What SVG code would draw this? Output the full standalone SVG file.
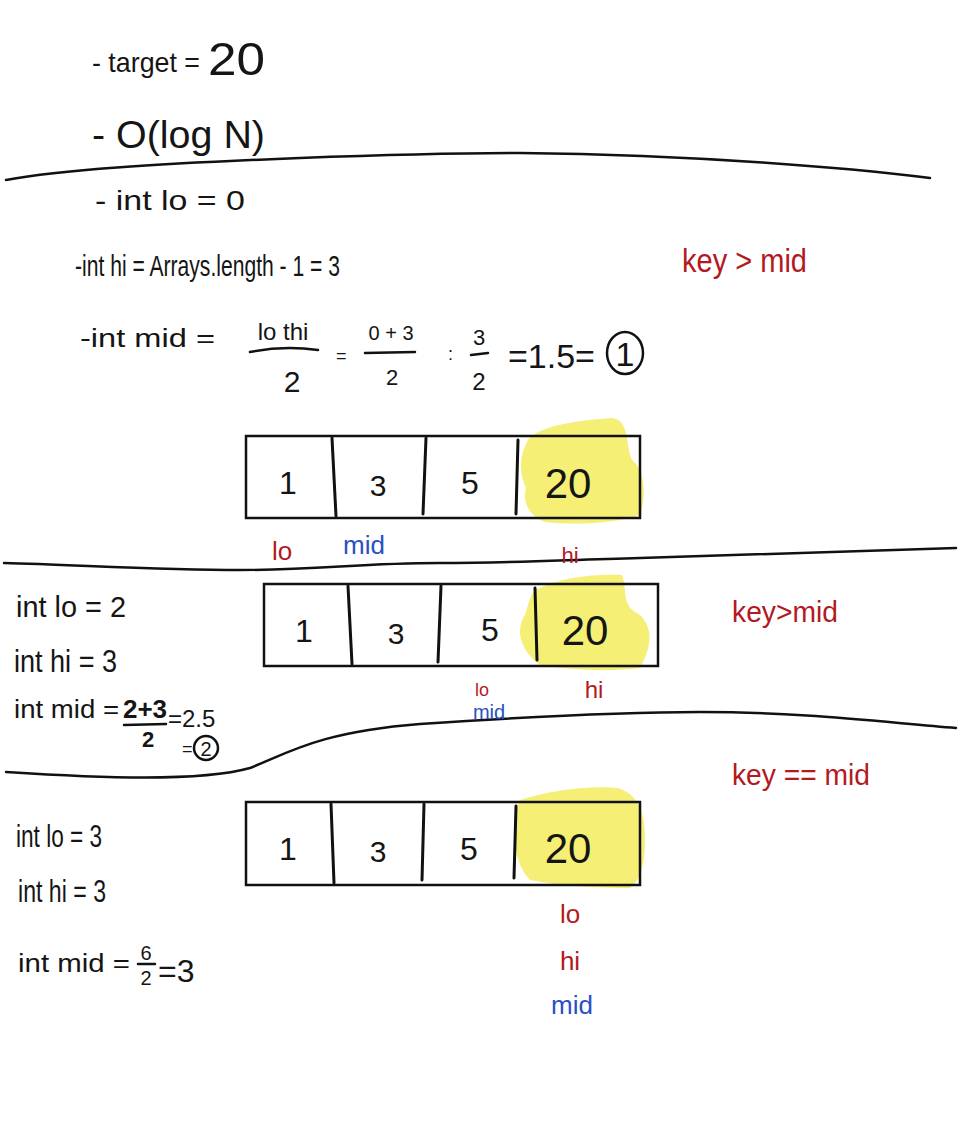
<svg xmlns="http://www.w3.org/2000/svg" width="959" height="1125" viewBox="0 0 959 1125">
<style>
.t{font-family:"Liberation Sans",Arial,sans-serif;fill:#151515}
.r{font-family:"Liberation Sans",Arial,sans-serif;fill:#b3191f}
.b{font-family:"Liberation Sans",Arial,sans-serif;fill:#2a4fc4}
.ln{fill:none;stroke:#111;stroke-width:2.5;stroke-linecap:round}
.box{fill:none;stroke:#111;stroke-width:2.5}
.dv{stroke:#111;stroke-width:3;stroke-linecap:round}
.hl{fill:#f5ec5e;opacity:0.85}
.m{text-anchor:middle}
</style>
<rect width="959" height="1125" fill="#ffffff"/>

<!-- dividers -->
<path class="ln" d="M6,180 C60,170 150,164 300,158 C380,155 450,153 520,153 C700,155 850,168 930,178"/>
<path class="ln" d="M4,563 C80,565 160,570 240,570 C320,570 360,563 440,563 C520,563 560,560 640,558 C760,554 880,550 956,548"/>
<path class="ln" d="M6,772 C100,778 200,782 250,768 C290,752 320,732 420,724 C540,716 640,712 700,712 C800,712 880,722 956,728"/>

<!-- header notes -->
<g id="notes-top">
<text class="t" x="92" y="72" font-size="28" textLength="108" lengthAdjust="spacingAndGlyphs">- target =</text>
<text class="t" x="208" y="75" font-size="46" textLength="57" lengthAdjust="spacingAndGlyphs">20</text>
<text class="t" x="92" y="148" font-size="38" textLength="173" lengthAdjust="spacingAndGlyphs">- O(log N)</text>
</g>

<!-- step 1 -->
<g id="step1-text">
<text class="t" x="95" y="210" font-size="28" textLength="150" lengthAdjust="spacingAndGlyphs">- int lo = 0</text>
<text class="t" x="75" y="276" font-size="30" textLength="265" lengthAdjust="spacingAndGlyphs">-int hi = Arrays.length - 1 = 3</text>
<text class="t" x="80" y="347" font-size="26" textLength="135" lengthAdjust="spacingAndGlyphs">-int mid =</text>
<text class="t m" x="283" y="340" font-size="24">lo thi</text>
<path class="ln" d="M250,352 C270,348 295,347 318,350"/>
<text class="t m" x="292" y="392" font-size="30">2</text>
<text class="t" x="336" y="362" font-size="18">=</text>
<text class="t m" x="391" y="340" font-size="20">0 + 3</text>
<path class="ln" d="M365,353 L415,352"/>
<text class="t m" x="392" y="385" font-size="22">2</text>
<text class="t" x="448" y="360" font-size="18">:</text>
<text class="t m" x="479" y="345" font-size="22">3</text>
<path class="ln" d="M471,355 L488,353"/>
<text class="t m" x="479" y="390" font-size="24">2</text>
<text class="t" x="508" y="368" font-size="34">=1.5=</text>
<ellipse cx="625" cy="353" rx="18" ry="21" fill="none" stroke="#111" stroke-width="2.5"/>
<text class="t m" x="625" y="366" font-size="34">1</text>
<text class="r" x="682" y="272" font-size="34" textLength="125" lengthAdjust="spacingAndGlyphs">key &gt; mid</text>
</g>

<!-- array 1 -->
<g id="array1">
<path class="hl" d="M528,440 C540,425 580,420 612,418 C630,420 625,445 632,460 C646,470 646,500 640,515 C620,522 580,526 545,522 C528,516 522,500 526,488 C518,470 520,455 528,440 Z"/>
<rect class="box" x="246" y="436" width="394" height="82"/>
<line class="dv" x1="332" y1="438" x2="336" y2="516"/>
<line class="dv" x1="426" y1="438" x2="423" y2="514"/>
<line class="dv" x1="518" y1="440" x2="516" y2="514"/>
<text class="t m" x="288" y="494" font-size="32">1</text>
<text class="t m" x="378" y="496" font-size="30">3</text>
<text class="t m" x="470" y="494" font-size="32">5</text>
<text class="t m" x="568" y="498" font-size="42">20</text>
<text class="r m" x="282" y="560" font-size="26">lo</text>
<text class="b m" x="364" y="554" font-size="26">mid</text>
<text class="r m" x="570" y="563" font-size="22">hi</text>
</g>

<!-- step 2 -->
<g id="step2-text">
<text class="t" x="16" y="617" font-size="30" textLength="110" lengthAdjust="spacingAndGlyphs">int lo = 2</text>
<text class="t" x="14" y="672" font-size="32" textLength="103" lengthAdjust="spacingAndGlyphs">int hi = 3</text>
<text class="t" x="14" y="718" font-size="26" textLength="105" lengthAdjust="spacingAndGlyphs">int mid =</text>
<text class="t m" x="145" y="718" font-size="26" font-weight="bold">2+3</text>
<path class="ln" d="M124,725 L166,724"/>
<text class="t m" x="148" y="747" font-size="22" font-weight="bold">2</text>
<text class="t" x="168" y="727" font-size="24">=2.5</text>
<text class="t" x="182" y="755" font-size="18">=</text>
<circle cx="206" cy="748" r="12" fill="none" stroke="#111" stroke-width="2.5"/>
<text class="t m" x="206" y="756" font-size="20">2</text>
<text class="r" x="732" y="622" font-size="30" textLength="106" lengthAdjust="spacingAndGlyphs">key&gt;mid</text>
</g>

<!-- array 2 -->
<g id="array2">
<path class="hl" d="M535,590 C560,578 590,574 622,575 C628,590 620,605 640,615 C655,630 650,650 640,668 C610,672 570,670 540,665 C520,650 515,630 525,615 C528,605 530,596 535,590 Z"/>
<rect class="box" x="264" y="584" width="394" height="82"/>
<line class="dv" x1="348" y1="586" x2="352" y2="664"/>
<line class="dv" x1="441" y1="586" x2="438" y2="662"/>
<line class="dv" x1="535" y1="588" x2="537" y2="660"/>
<text class="t m" x="304" y="642" font-size="32">1</text>
<text class="t m" x="396" y="644" font-size="30">3</text>
<text class="t m" x="490" y="641" font-size="32">5</text>
<text class="t m" x="585" y="645" font-size="42">20</text>
<text class="r m" x="482" y="696" font-size="18">lo</text>
<text class="b m" x="489" y="719" font-size="20">mid</text>
<text class="r m" x="594" y="698" font-size="24">hi</text>
</g>

<!-- step 3 -->
<g id="step3-text">
<text class="r" x="732" y="785" font-size="30" textLength="138" lengthAdjust="spacingAndGlyphs">key == mid</text>
<text class="t" x="16" y="847" font-size="32" textLength="86" lengthAdjust="spacingAndGlyphs">int lo = 3</text>
<text class="t" x="18" y="902" font-size="32" textLength="88" lengthAdjust="spacingAndGlyphs">int hi = 3</text>
<text class="t" x="18" y="972" font-size="26" textLength="112" lengthAdjust="spacingAndGlyphs">int mid =</text>
<text class="t m" x="146" y="960" font-size="20">6</text>
<line class="ln" x1="138" y1="964" x2="155" y2="964"/>
<text class="t m" x="146" y="985" font-size="20">2</text>
<text class="t" x="158" y="982" font-size="32">=3</text>
</g>

<!-- array 3 -->
<g id="array3">
<path class="hl" d="M520,800 C550,790 590,785 618,788 C640,795 645,815 645,840 C645,860 642,880 630,888 C600,888 560,886 530,880 C516,865 512,840 516,820 C516,810 518,805 520,800 Z"/>
<rect class="box" x="246" y="802" width="394" height="83"/>
<line class="dv" x1="331" y1="804" x2="334" y2="883"/>
<line class="dv" x1="424" y1="804" x2="422" y2="880"/>
<line class="dv" x1="516" y1="806" x2="514" y2="878"/>
<text class="t m" x="288" y="860" font-size="32">1</text>
<text class="t m" x="378" y="862" font-size="30">3</text>
<text class="t m" x="469" y="860" font-size="32">5</text>
<text class="t m" x="568" y="863" font-size="42">20</text>
<text class="r m" x="570" y="923" font-size="26">lo</text>
<text class="r m" x="570" y="970" font-size="26">hi</text>
<text class="b m" x="572" y="1014" font-size="26">mid</text>
</g>
</svg>
